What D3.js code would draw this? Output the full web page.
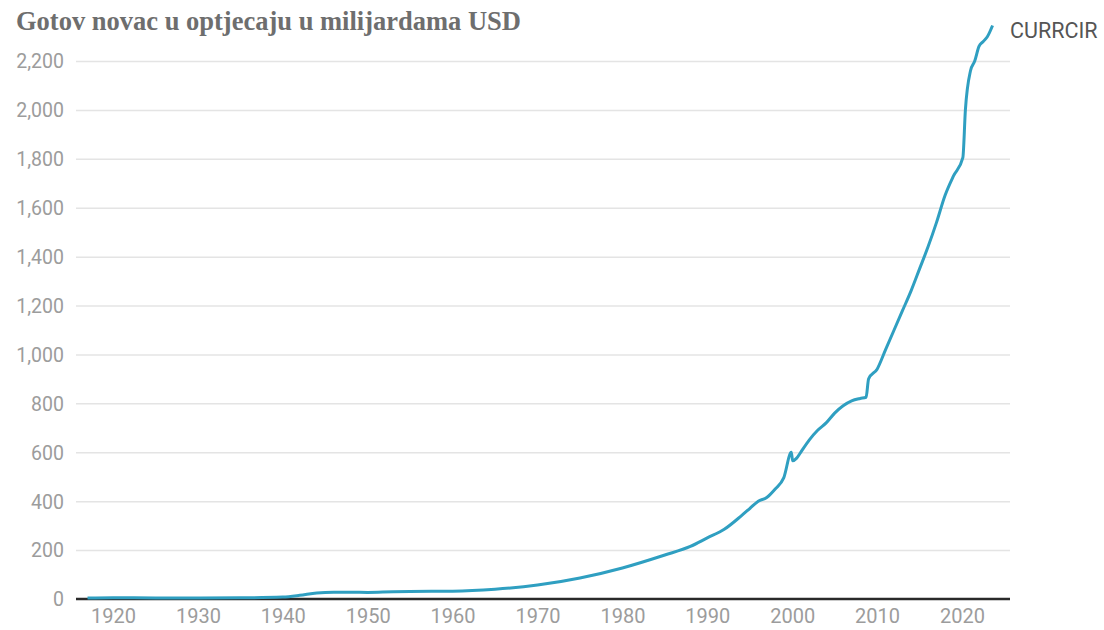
<!DOCTYPE html>
<html lang="hr">
<head>
    <meta charset="UTF-8">
    <title>Gotov novac u optjecaju</title>
    <script src="https://cdn.jsdelivr.net/npm/d3@7/dist/d3.min.js"></script>
    <style>
        body { margin: 0; background: #fff; }
        .grid line { stroke: #e4e4e4; stroke-width: 1.5; }
        .grid path { display: none; }
        .axis text { font-family: Roboto, sans-serif; fill: #9c9c9c; }
        .axis path, .axis line { display: none; }
    </style>
</head>
<body>
<script>
    // godine i vrijednosti (milijarde USD), očitano sa slike
    let years = [1917, 1920, 1925, 1930, 1935, 1940, 1942, 1944, 1946, 1948, 1950, 1953, 1955,
        1960, 1965, 1970, 1975, 1980, 1985, 1988, 1990, 1992, 1994, 1995, 1996, 1997, 1998,
        1999, 1999.9, 2000.05, 2000.5, 2001, 2002, 2003, 2004, 2005, 2006, 2007, 2008,
        2008.7, 2009, 2010, 2011, 2012, 2013, 2014, 2015, 2016, 2017, 2018, 2019, 2020.1,
        2020.4, 2021, 2021.5, 2022, 2022.5, 2023, 2023.6];
    let values = [4, 5, 4.5, 4.5, 5, 8, 15, 25, 28, 28, 27, 30, 31,
        32, 40, 57, 86, 127, 180, 215, 250, 285, 340, 370, 400, 415, 450,
        495, 600, 565, 575, 600, 650, 690, 720, 760, 790, 810, 820,
        825, 900, 940, 1020, 1100, 1180, 1260, 1350, 1440, 1540, 1650, 1730, 1805,
        2000, 2160, 2200, 2260, 2280, 2300, 2345];
    let yTicks = [0, 200, 400, 600, 800, 1000, 1200, 1400, 1600, 1800, 2000, 2200];
    let xTicks = [1920, 1930, 1940, 1950, 1960, 1970, 1980, 1990, 2000, 2010, 2020];
    let seriesName = 'CURRCIR';
    let title = 'Gotov novac u optjecaju u milijardama USD';

    let width = 1104;
    let height = 630;
    let padding = {left: 76, right: 94, top: 61, bottom: 31};

    let svg = d3.select('body')
        .append('svg')
        .attr('width', width)
        .attr('height', height);

    // x os: 1920 -> 113px, 2020 -> 962px
    let xScale = d3.scaleLinear()
        .domain([1920, 2020])
        .range([113, 962]);

    let yScale = d3.scaleLinear()
        .domain([0, 2200])
        .range([height - padding.bottom, padding.top]);

    // mreža
    svg.append('g')
        .attr('class', 'grid')
        .attr('transform', 'translate(' + padding.left + ',0)')
        .call(d3.axisLeft(yScale).tickValues(yTicks.slice(1)).tickSize(-(width - padding.left - padding.right)).tickFormat(''));

    // y os
    svg.append('g')
        .attr('class', 'axis')
        .attr('transform', 'translate(' + (padding.left - 12) + ',0)')
        .call(d3.axisLeft(yScale).tickValues(yTicks).tickSize(0).tickPadding(0).tickFormat(d3.format(',')))
        .selectAll('text')
        .style('font-size', '19.5px')
        .attr('dy', '0.35em');

    // x os
    svg.append('g')
        .attr('class', 'axis')
        .attr('transform', 'translate(0,' + (height - padding.bottom) + ')')
        .call(d3.axisBottom(xScale).tickValues(xTicks).tickSize(0).tickPadding(10).tickFormat(d3.format('d')))
        .selectAll('text')
        .style('font-size', '20px');

    // osnovna linija
    svg.append('line')
        .attr('x1', padding.left)
        .attr('x2', width - padding.right)
        .attr('y1', yScale(0))
        .attr('y2', yScale(0))
        .style('stroke', '#2a2a2a')
        .style('stroke-width', 2.5);

    // linija serije
    let line = d3.line()
        .x(function (d, i) { return xScale(years[i]); })
        .y(function (d) { return yScale(d); })
        .curve(d3.curveMonotoneX);

    svg.append('path')
        .datum(values)
        .attr('d', line)
        .style('fill', 'none')
        .style('stroke', '#2f9fc1')
        .style('stroke-width', 3)
        .style('stroke-linejoin', 'round');

    // naziv serije
    svg.append('text')
        .attr('x', 1010)
        .attr('y', 38)
        .style('font-family', 'Roboto, sans-serif')
        .style('font-size', '21.5px')
        .style('fill', '#555')
        .text(seriesName);

    // naslov
    svg.append('text')
        .attr('x', 16)
        .attr('y', 30)
        .style('font-family', '"Liberation Serif", "Times New Roman", serif')
        .style('font-weight', 'bold')
        .style('font-size', '26.5px')
        .style('fill', '#6e6e6e')
        .text(title);
</script>
</body>
</html>
